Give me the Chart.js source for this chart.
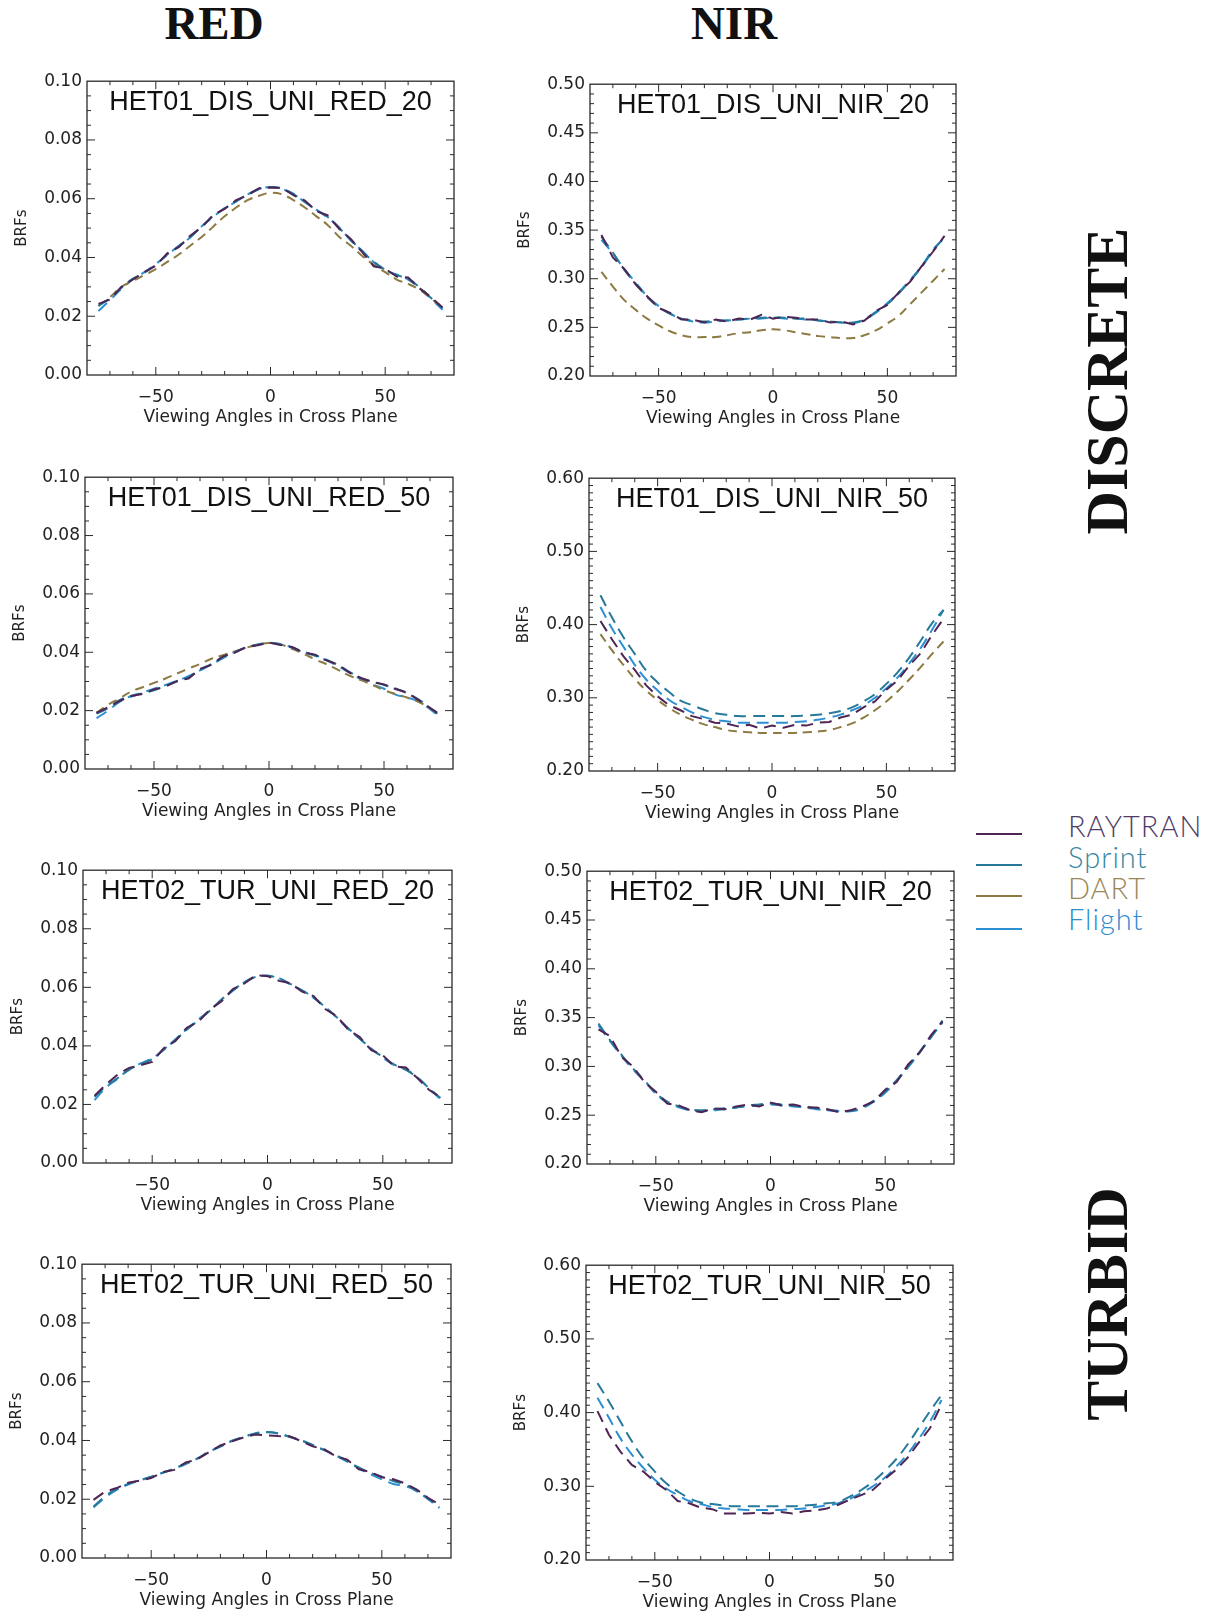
<!DOCTYPE html>
<html lang="en">
<head>
<meta charset="UTF-8">
<title>BRFs in cross plane - RED / NIR</title>
<script src="https://cdn.jsdelivr.net/npm/chart.js"></script>
<style>
  body { margin: 0; background: #fff; }
  #page { position: relative; width: 1212px; height: 1615px; overflow: hidden; }
  #page canvas { position: absolute; }
  .band { position: absolute; font-family: "Liberation Serif", "DejaVu Serif", serif; font-weight: bold; color: #111; }
  .colhead { top: 0; font-size: 47px; line-height: 47px; transform: translateX(-50%); }
  .rowhead { font-size: 60px; line-height: 60px; white-space: nowrap; transform: translate(-50%, -50%) rotate(-90deg); }
  .ptitle { position: absolute; text-align: center; font-family: "Liberation Sans", Arial, sans-serif; font-size: 27px; line-height: 27px; color: #111; white-space: nowrap; }
  .key-line { position: absolute; left: 976px; width: 46px; height: 0; border-top: 2px solid; }
  .key-text { position: absolute; left: 1068px; font-family: Lato, "Open Sans", sans-serif; font-weight: 300; font-size: 29px; line-height: 31px; letter-spacing: 1px; }
</style>
</head>
<body>
<div id="page">
  <div class="band colhead" style="left:214px">RED</div>
  <div class="band colhead" style="left:734px">NIR</div>
  <div class="band rowhead" style="left:1107px; top:381px">DISCRETE</div>
  <div class="band rowhead" style="left:1107px; top:1304px">TURBID</div>
</div>

<script>
// viewing angles (deg), same for every panel
const angles = [-75, -70, -65, -60, -55, -50, -45, -40, -35, -30, -25, -20, -15, -10, -5, 0,
                5, 10, 15, 20, 25, 30, 35, 40, 45, 50, 55, 60, 65, 70, 75];

const modelNames = ['RAYTRAN', 'Sprint', 'DART', 'Flight'];

// HET01 discrete, RED, sun 20
const disRed20Raytran = [0.0242,0.0257,0.0300,0.0325,0.0350,0.0372,0.0414,0.0435,0.0474,0.0503,0.0545,0.0565,0.0595,0.0611,0.0636,0.0638,0.0637,0.0612,0.0594,0.0558,0.0543,0.0497,0.0463,0.0418,0.0370,0.0362,0.0335,0.0332,0.0295,0.0265,0.0230];
const disRed20Sprint  = [0.0235,0.0262,0.0297,0.0328,0.0348,0.0376,0.0410,0.0438,0.0470,0.0505,0.0540,0.0567,0.0592,0.0614,0.0633,0.0640,0.0634,0.0615,0.0590,0.0561,0.0538,0.0500,0.0460,0.0421,0.0386,0.0358,0.0340,0.0328,0.0298,0.0262,0.0228];
const disRed20Dart    = [0.0235,0.0265,0.0300,0.0320,0.0340,0.0360,0.0385,0.0410,0.0440,0.0470,0.0505,0.0540,0.0570,0.0595,0.0610,0.0620,0.0615,0.0595,0.0570,0.0540,0.0510,0.0470,0.0440,0.0405,0.0375,0.0350,0.0325,0.0310,0.0290,0.0260,0.0230];
const disRed20Flight  = [0.0218,0.0255,0.0293,0.0326,0.0350,0.0378,0.0408,0.0440,0.0468,0.0506,0.0538,0.0568,0.0590,0.0615,0.0632,0.0640,0.0633,0.0617,0.0588,0.0563,0.0535,0.0502,0.0458,0.0423,0.0384,0.0357,0.0342,0.0325,0.0296,0.0260,0.0222];

// HET01 discrete, NIR, sun 20
const disNir20Raytran = [0.345,0.322,0.310,0.294,0.282,0.270,0.265,0.258,0.258,0.255,0.258,0.256,0.259,0.258,0.263,0.259,0.261,0.260,0.258,0.258,0.255,0.256,0.253,0.257,0.267,0.273,0.286,0.297,0.313,0.328,0.344];
const disNir20Sprint  = [0.343,0.327,0.309,0.295,0.281,0.271,0.264,0.259,0.257,0.256,0.257,0.257,0.258,0.259,0.260,0.260,0.260,0.259,0.259,0.257,0.256,0.255,0.255,0.258,0.266,0.274,0.285,0.298,0.312,0.329,0.343];
const disNir20Dart    = [0.307,0.292,0.278,0.268,0.259,0.252,0.246,0.242,0.240,0.240,0.240,0.242,0.244,0.245,0.247,0.248,0.247,0.245,0.243,0.241,0.240,0.239,0.239,0.242,0.247,0.254,0.262,0.274,0.286,0.298,0.310];
const disNir20Flight  = [0.340,0.326,0.310,0.296,0.282,0.272,0.264,0.259,0.256,0.255,0.256,0.257,0.258,0.259,0.259,0.260,0.259,0.259,0.258,0.257,0.256,0.255,0.254,0.258,0.265,0.275,0.286,0.299,0.313,0.330,0.342];

// HET01 discrete, RED, sun 50
const disRed50Raytran = [0.0192,0.0212,0.0233,0.0250,0.0257,0.0273,0.0282,0.0302,0.0310,0.0343,0.0357,0.0386,0.0398,0.0418,0.0424,0.0433,0.0425,0.0418,0.0399,0.0392,0.0372,0.0358,0.0330,0.0312,0.0298,0.0290,0.0274,0.0262,0.0236,0.0210,0.0182];
const disRed50Sprint  = [0.0190,0.0208,0.0236,0.0248,0.0260,0.0270,0.0285,0.0300,0.0314,0.0340,0.0360,0.0384,0.0400,0.0416,0.0426,0.0432,0.0427,0.0416,0.0400,0.0390,0.0375,0.0356,0.0333,0.0310,0.0300,0.0288,0.0276,0.0260,0.0239,0.0208,0.0180];
const disRed50Dart    = [0.0193,0.0220,0.0242,0.0265,0.0280,0.0295,0.0310,0.0327,0.0344,0.0360,0.0378,0.0390,0.0403,0.0415,0.0426,0.0432,0.0427,0.0412,0.0395,0.0376,0.0359,0.0340,0.0320,0.0305,0.0288,0.0270,0.0257,0.0245,0.0230,0.0208,0.0185];
const disRed50Flight  = [0.0174,0.0200,0.0230,0.0250,0.0262,0.0275,0.0288,0.0302,0.0318,0.0338,0.0358,0.0380,0.0400,0.0416,0.0427,0.0433,0.0428,0.0417,0.0402,0.0388,0.0372,0.0352,0.0330,0.0308,0.0290,0.0275,0.0255,0.0245,0.0232,0.0205,0.0174];

// HET01 discrete, NIR, sun 50
const disNir50Raytran = [0.405,0.380,0.357,0.338,0.317,0.302,0.290,0.283,0.275,0.271,0.266,0.265,0.261,0.263,0.258,0.262,0.259,0.263,0.262,0.266,0.267,0.273,0.277,0.287,0.295,0.311,0.324,0.344,0.361,0.386,0.408];
const disNir50Sprint  = [0.440,0.410,0.383,0.360,0.337,0.321,0.308,0.296,0.290,0.284,0.279,0.277,0.275,0.275,0.275,0.275,0.275,0.275,0.276,0.277,0.279,0.282,0.287,0.295,0.305,0.319,0.335,0.355,0.378,0.402,0.420];
const disNir50Dart    = [0.387,0.365,0.345,0.326,0.310,0.297,0.286,0.277,0.270,0.264,0.260,0.256,0.254,0.253,0.252,0.252,0.252,0.252,0.253,0.254,0.256,0.260,0.265,0.273,0.283,0.295,0.309,0.325,0.342,0.360,0.377];
const disNir50Flight  = [0.424,0.395,0.370,0.345,0.325,0.310,0.297,0.288,0.280,0.274,0.270,0.268,0.266,0.266,0.266,0.266,0.266,0.267,0.268,0.270,0.273,0.277,0.283,0.290,0.300,0.313,0.328,0.347,0.368,0.393,0.420];

// HET02 turbid, RED, sun 20 (no DART run)
const turRed20Raytran = [0.0230,0.0268,0.0302,0.0325,0.0334,0.0345,0.0392,0.0416,0.0462,0.0482,0.0524,0.0552,0.0594,0.0613,0.0642,0.0638,0.0622,0.0614,0.0585,0.0570,0.0526,0.0502,0.0455,0.0430,0.0385,0.0368,0.0330,0.0326,0.0290,0.0250,0.0224];
const turRed20Sprint  = [0.0226,0.0262,0.0290,0.0318,0.0338,0.0355,0.0388,0.0420,0.0455,0.0488,0.0520,0.0558,0.0590,0.0617,0.0636,0.0640,0.0630,0.0611,0.0589,0.0565,0.0532,0.0498,0.0460,0.0425,0.0390,0.0362,0.0336,0.0318,0.0292,0.0256,0.0222];
const turRed20Flight  = [0.0215,0.0258,0.0288,0.0320,0.0340,0.0358,0.0386,0.0422,0.0457,0.0490,0.0522,0.0556,0.0588,0.0618,0.0635,0.0639,0.0631,0.0610,0.0590,0.0564,0.0533,0.0497,0.0458,0.0424,0.0390,0.0360,0.0334,0.0320,0.0292,0.0255,0.0218];

// HET02 turbid, NIR, sun 20
const turNir20Raytran = [0.338,0.331,0.310,0.300,0.284,0.274,0.262,0.260,0.255,0.253,0.257,0.256,0.259,0.261,0.259,0.263,0.260,0.261,0.258,0.258,0.256,0.253,0.255,0.259,0.264,0.276,0.284,0.302,0.314,0.332,0.346];
const turNir20Sprint  = [0.344,0.327,0.312,0.298,0.286,0.2725,0.264,0.259,0.256,0.255,0.256,0.257,0.258,0.260,0.261,0.262,0.261,0.260,0.259,0.257,0.2555,0.2545,0.2545,0.258,0.265,0.274,0.286,0.300,0.315,0.330,0.347];
const turNir20Flight  = [0.342,0.326,0.311,0.297,0.285,0.272,0.263,0.258,0.255,0.254,0.255,0.256,0.258,0.259,0.260,0.261,0.260,0.259,0.258,0.256,0.255,0.254,0.254,0.257,0.264,0.273,0.285,0.299,0.314,0.330,0.345];

// HET02 turbid, RED, sun 50
const turRed50Raytran = [0.0198,0.0226,0.0238,0.0256,0.0263,0.0272,0.0292,0.0300,0.0325,0.0336,0.0360,0.0383,0.0397,0.0410,0.0420,0.0418,0.0415,0.0414,0.0398,0.0380,0.0370,0.0346,0.0335,0.0302,0.0293,0.0275,0.0268,0.0254,0.0234,0.0205,0.0182];
const turRed50Sprint  = [0.0175,0.0210,0.0235,0.0252,0.0265,0.0277,0.0290,0.0305,0.0322,0.0339,0.0362,0.0379,0.0399,0.0412,0.0424,0.0429,0.0424,0.0412,0.0401,0.0384,0.0367,0.0350,0.0331,0.0308,0.0290,0.0277,0.0262,0.0250,0.0230,0.0203,0.0175];
const turRed50Flight  = [0.0172,0.0205,0.0232,0.0250,0.0264,0.0276,0.0290,0.0304,0.0320,0.0338,0.0360,0.0380,0.0398,0.0412,0.0423,0.0428,0.0425,0.0413,0.0400,0.0385,0.0368,0.0348,0.0328,0.0305,0.0285,0.0268,0.0252,0.0245,0.0228,0.0200,0.0170];

// HET02 turbid, NIR, sun 50
const turNir50Raytran = [0.402,0.370,0.347,0.329,0.320,0.306,0.295,0.280,0.277,0.271,0.269,0.263,0.263,0.263,0.264,0.263,0.265,0.263,0.266,0.267,0.270,0.275,0.282,0.288,0.295,0.309,0.322,0.338,0.359,0.379,0.411];
const turNir50Sprint  = [0.440,0.415,0.388,0.361,0.338,0.320,0.304,0.293,0.284,0.278,0.276,0.274,0.273,0.273,0.273,0.273,0.273,0.273,0.274,0.275,0.277,0.279,0.286,0.295,0.306,0.320,0.336,0.356,0.379,0.402,0.424];
const turNir50Flight  = [0.420,0.393,0.365,0.343,0.325,0.309,0.297,0.288,0.280,0.276,0.272,0.270,0.269,0.268,0.268,0.268,0.268,0.269,0.270,0.272,0.274,0.277,0.283,0.291,0.300,0.311,0.326,0.343,0.364,0.388,0.417];

// x tick labels
const xTickValues = [-50, 0, 50];

// line look per model
const styles = {
  RAYTRAN: { color: '#4e2553', dash: [12, 7], tension: 0 },
  Sprint:  { color: '#27799a', dash: [12, 7], tension: 0.4 },
  DART:    { color: '#8c7a42', dash: [9, 6],  tension: 0.4 },
  Flight:  { color: '#2c8fd2', dash: [12, 7], tension: 0.4 }
};
const keyColors = { RAYTRAN: '#4f3d68', Sprint: '#3786a2', DART: '#9a8757', Flight: '#2f8bcd' };

// panel boxes are in page pixels: [left, top, right, bottom]
const panels = [
  { title: 'HET01_DIS_UNI_RED_20', box: [87, 80, 454, 375],   y: [0, 0.10, 0.02, 0.005], series: [disRed20Raytran, disRed20Sprint, disRed20Dart, disRed20Flight] },
  { title: 'HET01_DIS_UNI_NIR_20', box: [590, 83, 956, 376],  y: [0.20, 0.50, 0.05, 0.01], series: [disNir20Raytran, disNir20Sprint, disNir20Dart, disNir20Flight] },
  { title: 'HET01_DIS_UNI_RED_50', box: [85, 476, 453, 769],  y: [0, 0.10, 0.02, 0.005], series: [disRed50Raytran, disRed50Sprint, disRed50Dart, disRed50Flight] },
  { title: 'HET01_DIS_UNI_NIR_50', box: [589, 477, 955, 771], y: [0.20, 0.60, 0.10, 0.01], series: [disNir50Raytran, disNir50Sprint, disNir50Dart, disNir50Flight] },
  { title: 'HET02_TUR_UNI_RED_20', box: [83, 869, 452, 1163], y: [0, 0.10, 0.02, 0.005], series: [turRed20Raytran, turRed20Sprint, null, turRed20Flight] },
  { title: 'HET02_TUR_UNI_NIR_20', box: [587, 870, 954, 1164], y: [0.20, 0.50, 0.05, 0.01], series: [turNir20Raytran, turNir20Sprint, null, turNir20Flight] },
  { title: 'HET02_TUR_UNI_RED_50', box: [82, 1263, 451, 1558], y: [0, 0.10, 0.02, 0.005], series: [turRed50Raytran, turRed50Sprint, null, turRed50Flight] },
  { title: 'HET02_TUR_UNI_NIR_50', box: [586, 1264, 953, 1560], y: [0.20, 0.60, 0.10, 0.01], series: [turNir50Raytran, turNir50Sprint, null, turNir50Flight] }
];

const AXIS_W = 85, AXIS_H = 60, PAD_T = 14, PAD_R = 10;
const ink = '#222';

// IDL style frame: box on four sides with inward major/minor ticks
const frameBox = {
  id: 'frameBox',
  afterDraw(chart, args, opts) {
    const { ctx, chartArea: a, scales: { x, y } } = chart;
    ctx.save();
    ctx.strokeStyle = '#2a2a2a';
    ctx.lineWidth = 1.3;
    ctx.strokeRect(a.left, a.top, a.right - a.left, a.bottom - a.top);
    ctx.lineWidth = 1;
    ctx.beginPath();
    // x: minor every 10, major every 50
    for (let v = x.min + 10; v < x.max; v += 10) {
      const px = x.getPixelForValue(v);
      const len = v % 50 === 0 ? 8 : 4;
      ctx.moveTo(px, a.bottom); ctx.lineTo(px, a.bottom - len);
      ctx.moveTo(px, a.top); ctx.lineTo(px, a.top + len);
    }
    const n = Math.round((y.max - y.min) / opts.minor);
    const per = Math.round(opts.major / opts.minor);
    for (let i = 1; i < n; i++) {
      const py = y.getPixelForValue(y.min + i * opts.minor);
      const len = i % per === 0 ? 8 : 4;
      ctx.moveTo(a.left, py); ctx.lineTo(a.left + len, py);
      ctx.moveTo(a.right, py); ctx.lineTo(a.right - len, py);
    }
    ctx.stroke();
    ctx.restore();
  }
};

const page = document.getElementById('page');

panels.forEach(p => {
  const [l, t, r, b] = p.box;
  const [yMin, yMax, yStep, yMinor] = p.y;

  const canvas = document.createElement('canvas');
  canvas.width = (r - l) + AXIS_W + PAD_R;
  canvas.height = (b - t) + PAD_T + AXIS_H;
  canvas.style.left = (l - AXIS_W) + 'px';
  canvas.style.top = (t - PAD_T) + 'px';
  page.appendChild(canvas);

  const title = document.createElement('div');
  title.className = 'ptitle';
  title.style.left = l + 'px';
  title.style.width = (r - l) + 'px';
  title.style.top = (t + 8) + 'px';
  title.textContent = p.title;
  page.appendChild(title);

  const datasets = [];
  p.series.forEach((vals, k) => {
    if (!vals) return;
    const name = modelNames[k];
    const s = styles[name];
    datasets.push({
      label: name,
      data: angles.map((a, i) => ({ x: a, y: vals[i] })),
      borderColor: s.color,
      borderWidth: 2,
      borderDash: s.dash,
      tension: s.tension,
      pointRadius: 0,
      fill: false
    });
  });

  new Chart(canvas, {
    type: 'line',
    data: { datasets },
    options: {
      responsive: false,
      animation: false,
      devicePixelRatio: 1,
      layout: { padding: { left: 0, top: PAD_T, right: PAD_R, bottom: 0 } },
      plugins: {
        legend: { display: false },
        tooltip: { enabled: false },
        frameBox: { major: yStep, minor: yMinor }
      },
      scales: {
        x: {
          type: 'linear',
          min: -80, max: 80,
          afterBuildTicks: s => { s.ticks = xTickValues.map(v => ({ value: v })); },
          afterFit: s => { s.height = AXIS_H; },
          grid: { display: false, drawTicks: false },
          border: { display: false },
          ticks: {
            color: ink, padding: 12,
            font: { family: '"DejaVu Sans", sans-serif', size: 17 },
            callback: v => v < 0 ? '\u2212' + Math.abs(v) : String(v)
          },
          title: {
            display: true, text: 'Viewing Angles in Cross Plane', color: ink,
            font: { family: '"DejaVu Sans", sans-serif', size: 17 },
            padding: { top: 0, bottom: 7 }
          }
        },
        y: {
          type: 'linear',
          min: yMin, max: yMax,
          afterFit: s => { s.width = AXIS_W; },
          grid: { display: false, drawTicks: false },
          border: { display: false },
          ticks: {
            stepSize: yStep, color: ink, padding: 5,
            font: { family: '"DejaVu Sans", sans-serif', size: 17 },
            callback: v => Number(v).toFixed(2)
          },
          title: {
            display: true, text: 'BRFs', color: ink,
            font: { family: '"DejaVu Sans", sans-serif', size: 15 },
            padding: { top: 11, bottom: 0 }
          }
        }
      }
    },
    plugins: [frameBox]
  });
});

// model key on the right
const keyY = [834, 865, 896, 929];
modelNames.forEach((name, k) => {
  const line = document.createElement('div');
  line.className = 'key-line';
  line.style.top = (keyY[k] - 1) + 'px';
  line.style.borderColor = styles[name].color;
  page.appendChild(line);

  const txt = document.createElement('div');
  txt.className = 'key-text';
  txt.style.top = (810 + k * 31) + 'px';
  txt.style.color = keyColors[name];
  txt.textContent = name;
  page.appendChild(txt);
});
</script>
</body>
</html>
